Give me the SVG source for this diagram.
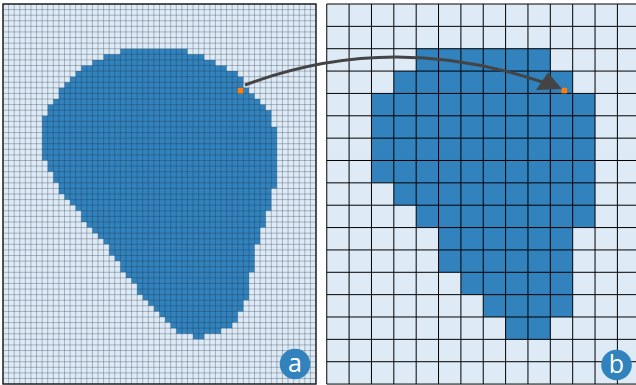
<svg xmlns="http://www.w3.org/2000/svg" width="636" height="385" viewBox="0 0 636 385">
<style>
.bg{fill:#deebf7}
.cell{fill:#3182bd}
.hi{fill:#ff7f0e}
.fine{fill:none;stroke:#1e2d3c;stroke-opacity:0.38;stroke-width:0.8}
.coarse{fill:none;stroke:#000;stroke-width:1}
.frame{fill:none;stroke:#1a1a1a;stroke-width:1.4}
.arrow{fill:none;stroke:#444;stroke-width:3}
.head{fill:#444}
.badge{fill:#3182bd}
.blabel{fill:#fff;font-family:"Open Sans","DejaVu Sans",sans-serif;font-size:25px;text-anchor:middle}
</style>
<g id="panel-a">
<g transform="translate(3,4) scale(5.5893)">
<rect class="bg" x="0" y="0" width="56" height="68"/>
<path class="cell" d="M21 8h12v1h-12z M18 9h18v1h-18z M16 10h22v1h-22z M14 11h26v1h-26z M13 12h29v1h-29z M12 13h31v1h-31z M11 14h32v1h-32z M10 15h34v1h-34z M10 16h35v1h-35z M9 17h37v1h-37z M8 18h39v1h-39z M8 19h40v1h-40z M7 20h41v2h-41z M7 22h42v6h-42z M8 28h41v2h-41z M9 30h40v2h-40z M10 32h39v1h-39z M10 33h38v1h-38z M11 34h37v1h-37z M12 35h36v1h-36z M13 36h35v1h-35z M14 37h33v2h-33z M15 39h32v1h-32z M16 40h30v1h-30z M17 41h29v1h-29z M18 42h28v1h-28z M19 43h26v2h-26z M20 45h25v1h-25z M21 46h24v2h-24z M22 48h22v1h-22z M23 49h21v1h-21z M24 50h20v2h-20z M25 52h19v1h-19z M26 53h17v1h-17z M27 54h16v1h-16z M28 55h14v1h-14z M29 56h13v1h-13z M30 57h11v1h-11z M31 58h8v1h-8z M34 59h2v1h-2z"/>
<path class="fine" vector-effect="non-scaling-stroke" d="M0 0V68M1 0V68M2 0V68M3 0V68M4 0V68M5 0V68M6 0V68M7 0V68M8 0V68M9 0V68M10 0V68M11 0V68M12 0V68M13 0V68M14 0V68M15 0V68M16 0V68M17 0V68M18 0V68M19 0V68M20 0V68M21 0V68M22 0V68M23 0V68M24 0V68M25 0V68M26 0V68M27 0V68M28 0V68M29 0V68M30 0V68M31 0V68M32 0V68M33 0V68M34 0V68M35 0V68M36 0V68M37 0V68M38 0V68M39 0V68M40 0V68M41 0V68M42 0V68M43 0V68M44 0V68M45 0V68M46 0V68M47 0V68M48 0V68M49 0V68M50 0V68M51 0V68M52 0V68M53 0V68M54 0V68M55 0V68M56 0V68 M0 0H56M0 1H56M0 2H56M0 3H56M0 4H56M0 5H56M0 6H56M0 7H56M0 8H56M0 9H56M0 10H56M0 11H56M0 12H56M0 13H56M0 14H56M0 15H56M0 16H56M0 17H56M0 18H56M0 19H56M0 20H56M0 21H56M0 22H56M0 23H56M0 24H56M0 25H56M0 26H56M0 27H56M0 28H56M0 29H56M0 30H56M0 31H56M0 32H56M0 33H56M0 34H56M0 35H56M0 36H56M0 37H56M0 38H56M0 39H56M0 40H56M0 41H56M0 42H56M0 43H56M0 44H56M0 45H56M0 46H56M0 47H56M0 48H56M0 49H56M0 50H56M0 51H56M0 52H56M0 53H56M0 54H56M0 55H56M0 56H56M0 57H56M0 58H56M0 59H56M0 60H56M0 61H56M0 62H56M0 63H56M0 64H56M0 65H56M0 66H56M0 67H56M0 68H56"/>
<rect class="hi" x="42" y="15" width="1" height="1"/>
</g>
<rect class="frame" x="3" y="4" width="313" height="380"/>
</g>
<g id="panel-b">
<g transform="translate(326.75,4) scale(22.357)">
<rect class="bg" x="0" y="0" width="14" height="17"/>
<path class="cell" d="M4 2h6v1h-6z M3 3h8v1h-8z M2 4h10v4h-10z M3 8h9v1h-9z M4 9h8v1h-8z M5 10h6v2h-6z M6 12h5v1h-5z M7 13h4v1h-4z M8 14h2v1h-2z"/>
<path class="coarse" vector-effect="non-scaling-stroke" d="M0 0V17M1 0V17M2 0V17M3 0V17M4 0V17M5 0V17M6 0V17M7 0V17M8 0V17M9 0V17M10 0V17M11 0V17M12 0V17M13 0V17M14 0V17 M0 0H14M0 1H14M0 2H14M0 3H14M0 4H14M0 5H14M0 6H14M0 7H14M0 8H14M0 9H14M0 10H14M0 11H14M0 12H14M0 13H14M0 14H14M0 15H14M0 16H14M0 17H14"/>
<rect class="hi" x="10.5" y="3.75" width="0.25" height="0.25"/>
</g>
</g>
<g id="connectors">
<path class="arrow" d="M245 85 Q391 30.4 544 82.5"/>
<polygon class="head" points="562,89 536,90 548,72.5"/>
</g>
<g id="badge-a">
<circle class="badge" cx="295" cy="364" r="15.3"/>
<text class="blabel" x="295" y="371.5">a</text>
</g>
<g id="badge-b">
<circle class="badge" cx="616.5" cy="365" r="15.3"/>
<text class="blabel" x="616.5" y="372.5">b</text>
</g>
</svg>
